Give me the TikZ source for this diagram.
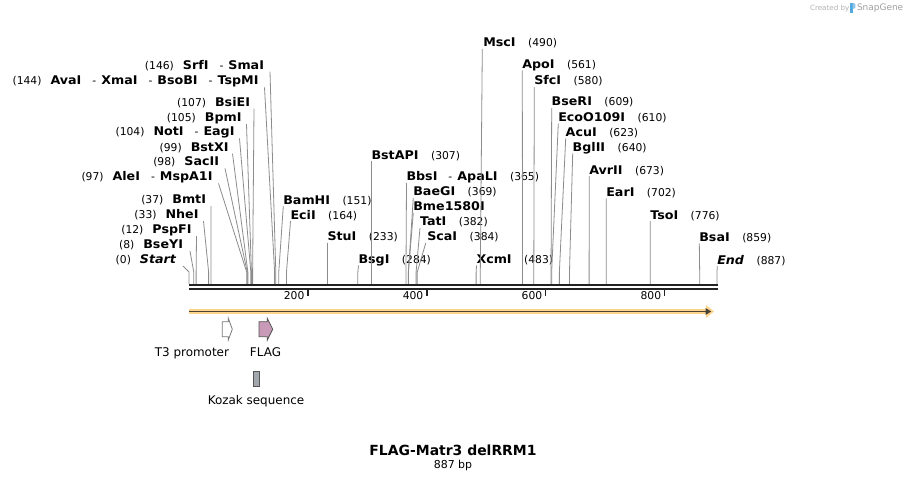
\documentclass[tikz,border=0pt]{standalone}
\usepackage{fontspec}
\setmainfont{DejaVu Sans}
\newfontfamily\enfont[FakeStretch=1.06]{DejaVu Sans}
\usetikzlibrary{calc}
\definecolor{cutgray}{HTML}{8C8C8C}
\definecolor{barblack}{HTML}{222222}
\definecolor{orlight}{HTML}{FCD48C}
\definecolor{ordark}{HTML}{4A4236}
\definecolor{flagpink}{HTML}{C99AB7}
\definecolor{kozgray}{HTML}{A2A6AD}
\definecolor{featedge}{HTML}{555555}
\definecolor{t3edge}{HTML}{7A7A7A}
\definecolor{sgblue}{HTML}{52A8E0}
\definecolor{sggray}{HTML}{A0A0A0}
\newcommand\en[1]{{\enfont\fontsize{12}{14}\selectfont\bfseries #1}}
\newcommand\ei[1]{{\enfont\fontsize{12}{14}\selectfont\bfseries\itshape #1}}
\newcommand\nm[1]{{\fontsize{10.8}{12}\selectfont #1}}
\newcommand\dsh{\hspace{11bp}\nm{-}\hspace{5bp}}
\newcommand\gapL{\hspace{9bp}}
\newcommand\gapR{\hspace{12.5bp}}
\begin{document}
\begin{tikzpicture}[x=1bp,y=-1bp,
  lab/.style={inner sep=0pt, outer sep=0pt},
  labL/.style={lab, anchor=base east},
  labR/.style={lab, anchor=base west},
  cut/.style={draw=cutgray, line width=0.8bp},
  feat/.style={lab, anchor=base, font=\fontsize{12}{14}\selectfont}]
\useasboundingbox (0,0) rectangle (907,481);
\fill[white] (0,0) rectangle (907,481);

% site coordinates
\foreach \p in {0,8,12,33,37,97,98,99,104,105,107,144,146,151,164,233,284,307,365,369,382,384,483,490,561,580,609,610,623,640,673,702,776,859} {
  \coordinate (k\p) at ({189+0.5945*\p},272);
  \coordinate (b\p) at ({189+0.5945*\p},284);
}
\coordinate (k887) at (717,272);
\coordinate (b887) at (717,284);

% left labels
\node[labL] (lSrf) at (264,69.2) {\nm{(146)}\gapL\en{SrfI}\dsh\en{SmaI}};
\node[labL] (lAva) at (258.5,84.9) {\nm{(144)}\gapL\en{AvaI}\dsh\en{XmaI}\dsh\en{BsoBI}\dsh\en{TspMI}};
\node[labL] (lBsiE) at (250,106.2) {\nm{(107)}\gapL\en{BsiEI}};
\node[labL] (lBpm) at (241.5,121.7) {\nm{(105)}\gapL\en{BpmI}};
\node[labL] (lNot) at (234.5,135.9) {\nm{(104)}\gapL\en{NotI}\dsh\en{EagI}};
\node[labL] (lBstX) at (228.5,151.2) {\nm{(99)}\gapL\en{BstXI}};
\node[labL] (lSac) at (219,165.9) {\nm{(98)}\gapL\en{SacII}};
\node[labL] (lAle) at (212.5,180.9) {\nm{(97)}\gapL\en{AleI}\dsh\en{MspA1I}};
\node[labL] (lBmt) at (206,203.7) {\nm{(37)}\gapL\en{BmtI}};
\node[labL] (lNhe) at (198.5,218.7) {\nm{(33)}\gapL\en{NheI}};
\node[labL] (lPsp) at (191.5,233.7) {\nm{(12)}\gapL\en{PspFI}};
\node[labL] (lBseY) at (183,248.7) {\nm{(8)}\gapL\en{BseYI}};
\node[labL] (lStart) at (176,263.5) {\nm{(0)}\gapL\ei{Start}};

\draw[cut] ($(lSrf.base east)+(6,2.5)$) -- (k146) -- (b146);
\draw[cut] ($(lAva.base east)+(6,2.5)$) -- (k144) -- (b144);
\draw[cut] ($(lBsiE.base east)+(4,2.5)$) -- (k107) -- (b107);
\draw[cut] ($(lBpm.base east)+(5,2.5)$) -- (k105) -- (b105);
\draw[cut] ($(lNot.base east)+(5,2.5)$) -- (k104) -- (b104);
\draw[cut] ($(lBstX.base east)+(4,2.5)$) -- (k99) -- (b99);
\draw[cut] ($(lSac.base east)+(6,2.5)$) -- (k98) -- (b98);
\draw[cut] ($(lAle.base east)+(6,2.5)$) -- (k97) -- (b97);
\draw[cut] ($(lBmt.base east)+(5,2.5)$) -- (k37) -- (b37);
\draw[cut] ($(lNhe.base east)+(5,2.5)$) -- (k33) -- (b33);
\draw[cut] ($(lPsp.base east)+(5,2.5)$) -- (k12) -- (b12);
\draw[cut] ($(lBseY.base east)+(7,2.5)$) -- (k8) -- (b8);
\draw[cut] ($(lStart.base east)+(7,2.5)$) -- (k0) -- (b0);

% middle labels
\node[labR] (lBam) at (283.3,204.2) {\en{BamHI}\gapR\nm{(151)}};
\node[labR] (lEci) at (290.5,219.2) {\en{EciI}\gapR\nm{(164)}};
\node[labR] (lStu) at (327.5,240.9) {\en{StuI}\gapR\nm{(233)}};
\node[labR] (lBsg) at (358.5,263.5) {\en{BsgI}\gapR\nm{(284)}};
\node[labR] (lBstAP) at (371.5,159.2) {\en{BstAPI}\gapR\nm{(307)}};
\node[labR] (lBbs) at (406.5,180.9) {\en{BbsI}\dsh\en{ApaLI}\gapR\nm{(365)}};
\node[labR] (lBaeG) at (413.3,195.9) {\en{BaeGI}\gapR\nm{(369)}};
\node[labR] (lBme) at (413.3,210.9) {\en{Bme1580I}};
\node[labR] (lTat) at (420,225.9) {\en{TatI}\gapR\nm{(382)}};
\node[labR] (lSca) at (427.3,240.9) {\en{ScaI}\gapR\nm{(384)}};
\node[labR] (lXcm) at (476.5,263.5) {\en{XcmI}\gapR\nm{(483)}};

\draw[cut] ($(lBam.base west)+(0,2)$) -- (k151) -- (b151);
\draw[cut] ($(lEci.base west)+(0,2)$) -- (k164) -- (b164);
\draw[cut] ($(lStu.base west)+(0,2)$) -- (k233) -- (b233);
\draw[cut] ($(lBsg.base west)+(0,2)$) -- (k284) -- (b284);
\draw[cut] ($(lBstAP.base west)+(0,2)$) -- (k307) -- (b307);
\draw[cut] ($(lBbs.base west)+(0,2)$) -- (k365) -- (b365);
\draw[cut] ($(lBaeG.base west)+(0,2)$) -- (k369) -- (b369);
\draw[cut] ($(lBme.base west)+(0,2)$) -- (k369);
\draw[cut] ($(lTat.base west)+(0,2)$) -- (k382) -- (b382);
\draw[cut] ($(lSca.base west)+(-1.5,2)$) -- (k384) -- (b384);
\draw[cut] ($(lXcm.base west)+(0,2)$) -- (k483) -- (b483);

% right labels
\node[labR] (lMsc) at (483.3,46.9) {\en{MscI}\gapR\nm{(490)}};
\node[labR] (lApo) at (522.3,68.5) {\en{ApoI}\gapR\nm{(561)}};
\node[labR] (lSfc) at (534.3,84.9) {\en{SfcI}\gapR\nm{(580)}};
\node[labR] (lBseR) at (551.7,105.9) {\en{BseRI}\gapR\nm{(609)}};
\node[labR] (lEco) at (558.3,121.5) {\en{EcoO109I}\gapR\nm{(610)}};
\node[labR] (lAcu) at (565.7,136.5) {\en{AcuI}\gapR\nm{(623)}};
\node[labR] (lBgl) at (572.7,151.5) {\en{BglII}\gapR\nm{(640)}};
\node[labR] (lAvr) at (589.3,174.2) {\en{AvrII}\gapR\nm{(673)}};
\node[labR] (lEar) at (606.3,196.5) {\en{EarI}\gapR\nm{(702)}};
\node[labR] (lTso) at (650.3,219.2) {\en{TsoI}\gapR\nm{(776)}};
\node[labR] (lBsa) at (699.3,241.5) {\en{BsaI}\gapR\nm{(859)}};
\node[labR] (lEnd) at (717.3,264.2) {\ei{End}\gapR\nm{(887)}};

\draw[cut] ($(lMsc.base west)+(-1,2)$) -- (k490) -- (b490);
\draw[cut] ($(lApo.base west)+(0,2)$) -- (k561) -- (b561);
\draw[cut] ($(lSfc.base west)+(0,2)$) -- (k580) -- (b580);
\draw[cut] ($(lBseR.base west)+(0,2)$) -- (k609) -- (b609);
\draw[cut] ($(lEco.base west)+(0,2)$) -- (k610) -- (b610);
\draw[cut] ($(lAcu.base west)+(0,2)$) -- (k623) -- (b623);
\draw[cut] ($(lBgl.base west)+(0,2)$) -- (k640) -- (b640);
\draw[cut] ($(lAvr.base west)+(0,2)$) -- (k673) -- (b673);
\draw[cut] ($(lEar.base west)+(0,2)$) -- (k702) -- (b702);
\draw[cut] ($(lTso.base west)+(0,2)$) -- (k776) -- (b776);
\draw[cut] ($(lBsa.base west)+(0,2)$) -- (k859) -- (b859);
\draw[cut] ($(lEnd.base west)+(0,2)$) -- (k887) -- (b887);

% sequence bar
\draw[barblack, line width=2.4bp] (189,285.2) -- (717.8,285.2);
\draw[barblack, line width=2.4bp] (189,289.2) -- (717.8,289.2);

% ticks
\foreach \t in {200,400,600,800} {
  \draw[barblack, line width=1.5bp] ({189+0.5945*\t},289) -- ({189+0.5945*\t},296.5);
  \node[lab, anchor=base east] (tk\t) at ({189+0.5945*\t-3.5},300) {\nm{\t}};
}

% orange arrow
\draw[orlight, line width=5bp] (189,311.5) -- (708,311.5);
\fill[orlight] (706,305) -- (714,311.5) -- (706,318) -- cycle;
\draw[ordark, line width=1.8bp] (189,311.5) -- (706,311.5);
\fill[ordark] (705.5,308) -- (711.2,311.5) -- (705.5,315) -- cycle;

% features
\draw[t3edge, fill=white, line width=0.8bp, line join=miter]
  (222.3,321.7) -- (228.3,321.7) -- (228.3,318.3) -- (232.3,329.2) -- (228.3,340) -- (228.3,336.7) -- (222.3,336.7) -- cycle;
\draw[featedge, fill=flagpink, line width=0.8bp, line join=miter]
  (259,321.7) -- (267.3,321.7) -- (267.3,318.3) -- (272.7,329.2) -- (267.3,340) -- (267.3,336.7) -- (259,336.7) -- cycle;
\draw[featedge, fill=kozgray, line width=0.8bp] (253.3,371) rectangle (259.3,386.7);

\node[feat, anchor=base east] (fT3) at (229,356.4) {T3 promoter};
\node[feat] (fFLAG) at (265.5,356.4) {FLAG};
\node[feat] (fKoz) at (256,404.4) {Kozak sequence};

% title
\node[lab, anchor=base] (title) at (453,455.8) {\fontsize{14}{16}\selectfont\bfseries FLAG-Matr3 delRRM1};
\node[lab, anchor=base] (size) at (453,468.6) {\fontsize{11}{13}\selectfont 887 bp};

% created by
\node[lab, anchor=base west, text=sggray!80] (cby) at (810,10.5) {\fontsize{7.2}{8}\selectfont Created by};
\fill[sgblue] (850.3,2.8) rectangle (852.6,13);
\fill[sgblue!65] (852.6,2.8) -- (855.3,3.8) -- (855.3,8) -- (852.6,9.2) -- cycle;
\node[lab, anchor=base west, text=sggray] (sg) at (857,11) {\fontsize{9}{10}\selectfont SnapGene};
\end{tikzpicture}
\end{document}
